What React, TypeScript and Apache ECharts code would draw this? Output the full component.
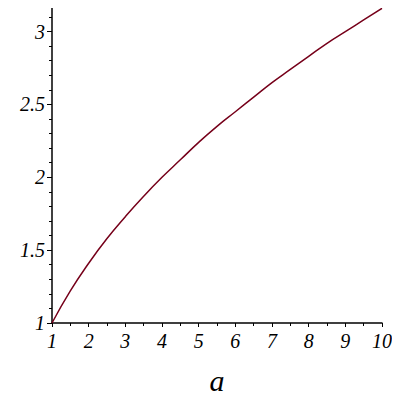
import React, { useEffect, useRef } from "react";
import * as echarts from "echarts";

// values
const aValues = [1, 1.5, 2, 2.5, 3, 3.5, 4, 4.5, 5, 5.5, 6, 6.5, 7, 7.5, 8, 8.5, 9, 9.5, 10];
const yValues = [1, 1.22, 1.41, 1.58, 1.73, 1.87, 2.0, 2.12, 2.24, 2.35, 2.45, 2.55, 2.65, 2.74, 2.83, 2.92, 3.0, 3.08, 3.16];

const yMajorTicks = [1, 1.5, 2, 2.5, 3];
const yMinorTicks = [1.1, 1.2, 1.3, 1.4, 1.6, 1.7, 1.8, 1.9, 2.1, 2.2, 2.3, 2.4, 2.6, 2.7, 2.8, 2.9, 3.1];
const xAxisName = "a";

const font = "Liberation Serif";

const App = () => {
  const chartRef = useRef<HTMLDivElement>(null);

  useEffect(() => {
    if (!chartRef.current) return;
    const myChart = echarts.init(chartRef.current, null, { renderer: "svg" });

    const lineStyle = { color: "#000", width: 1.5 };
    const labelStyle = {
      fontFamily: font,
      fontStyle: "italic",
      fontSize: 20,
      color: "#000",
    };

    const option = {
      animation: false,
      grid: { left: 52, right: 18, top: 8, bottom: 77, outerBoundsMode: "none", containLabel: false },
      xAxis: {
        type: "value",
        min: 1,
        max: 10,
        interval: 1,
        name: xAxisName,
        nameLocation: "middle",
        nameGap: 42,
        nameTextStyle: { fontFamily: font, fontStyle: "italic", fontSize: 30, color: "#000" },
        axisLine: { lineStyle },
        axisTick: { length: 4, lineStyle: { color: "#000", width: 1 } },
        minorTick: { show: true, splitNumber: 2, length: 3, lineStyle: { color: "#000", width: 1 } },
        axisLabel: { ...labelStyle, margin: 8 },
        splitLine: { show: false },
      },
      yAxis: [
        {
          type: "value",
          min: 1,
          max: 3.162,
          axisLine: { show: true, lineStyle },
          axisTick: {
            show: true,
            length: 5,
            customValues: yMajorTicks,
            lineStyle: { color: "#000", width: 1 },
          },
          axisLabel: { ...labelStyle, margin: 7, customValues: yMajorTicks },
          splitLine: { show: false },
        },
        {
          type: "value",
          position: "left",
          min: 1,
          max: 3.162,
          axisLine: { show: false },
          axisTick: {
            show: true,
            length: 3,
            customValues: yMinorTicks,
            lineStyle: { color: "#000", width: 1 },
          },
          axisLabel: { show: false },
          splitLine: { show: false },
        },
      ],
      series: [
        {
          type: "line",
          data: aValues.map((a, i) => [a, yValues[i]]),
          smooth: true,
          showSymbol: false,
          lineStyle: { color: "#76001a", width: 1.5 },
        },
      ],
    };

    myChart.setOption(option);
    return () => {
      myChart.dispose();
    };
  }, []);

  return <div ref={chartRef} style={{ width: 400, height: 400, margin: -8 }} />;
};

export default App;
